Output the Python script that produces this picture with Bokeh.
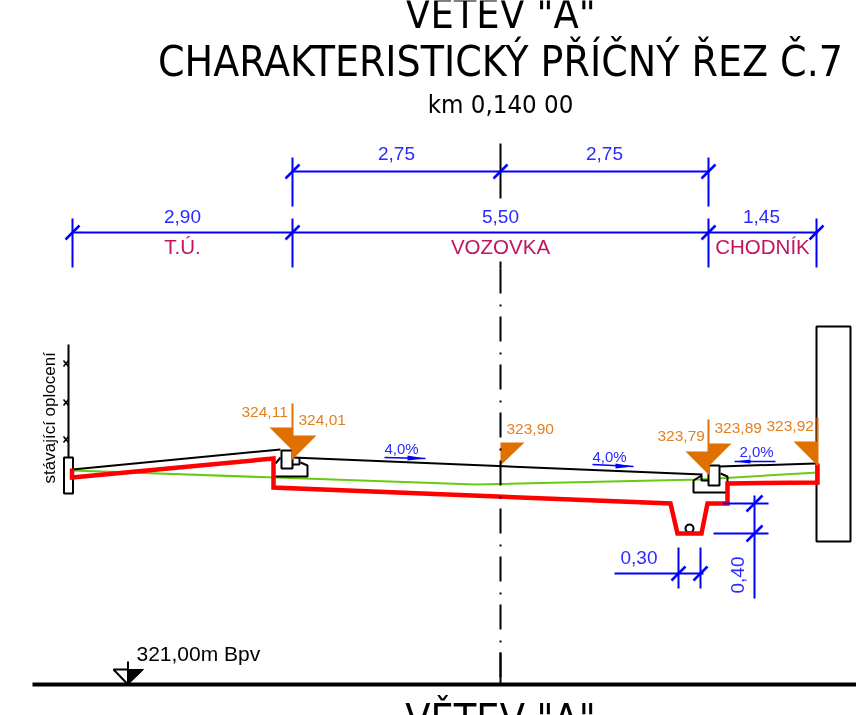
from bokeh.plotting import figure
from bokeh.models import Range1d
from bokeh.core.properties import value
from bokeh.embed import file_html
from bokeh.resources import INLINE

# ---- drawing data, in the drawing's own units (x right, y down) ----
dim_labels = ["2,75", "2,75", "2,90", "5,50", "1,45"]
dim_label_x = [396, 604, 182, 500, 761]
dim_label_y = [161, 161, 224, 224, 224]
zone_labels = ["T.Ú.", "VOZOVKA", "CHODNÍK"]
zone_x = [182, 500, 762]
zone_y = [255, 255, 255]
dim_upper_x = [292, 500, 708]
dim_upper_y = 171
dim_lower_x = [72, 292, 708, 816]
dim_lower_y = 232

road_red_x = [71.5, 71.5, 273, 273, 670, 677, 701, 707, 727, 727, 817, 817]
road_red_y = [468, 477, 458, 487, 503, 533, 533, 503, 503, 483, 482, 463]
subgrade_x = [72, 475, 700, 817]
subgrade_y = [470, 484, 479, 472]
terrain_x = [72, 280]
terrain_y = [469, 449]
deck_left_x = [292, 702]
deck_left_y = [457, 474]
deck_right_x = [719, 815]
deck_right_y = [466, 463]

heights = ["324,11", "324,01", "323,90", "323,79", "323,89", "323,92"]
height_x = [241, 298, 506, 657, 714, 766]
height_y = [418, 426, 435, 442, 434, 432]
marker_xs = [[269, 292, 292], [292, 316, 292], [500, 524, 500], [685, 708, 708], [708, 731, 708], [793, 817, 817]]
marker_ys = [[427, 427, 450], [435, 435, 459], [442, 442, 465], [451, 451, 474], [443, 443, 466], [441, 441, 465]]
stem_x = [292, 708, 817]
stem_top = [403, 419, 417]
stem_bottom = [459, 474, 465]

slopes = ["4,0%", "4,0%", "2,0%"]
slope_x = [384, 592, 739]
slope_y = [454, 462, 457]
slope_line_x = [[384, 425], [592, 633], [734, 775]]
slope_line_y = [[457, 458], [464, 466], [461, 461]]
slope_head_x = [[407, 425, 407], [615, 633, 615], [750, 734, 750]]
slope_head_y = [[455, 458, 460], [463, 466, 468], [459, 461, 463]]

fence_x = 68
fence_top = 344
fence_bottom = 457
fence_marks = [363, 402, 439]

p = figure(width=856, height=715, output_backend="svg", toolbar_location=None,
           x_range=Range1d(0, 856), y_range=Range1d(715, 0), min_border=0,
           background_fill_color="white", outline_line_color=None)
p.axis.visible = False
p.grid.visible = False
p.styles = {"position": "fixed", "left": "0px", "top": "0px"}

SANS = value("Liberation Sans")
COND = value("DejaVu Sans Condensed")
BLUE = "#0000ff"
TBLUE = "#2a2aff"
ORANGE = "#e07000"
OTEXT = "#e2801f"
ZONE = "#c0145f"
GREEN = "#66cc11"
RED = "#ff0000"

def label(x, y, t, size, color="black", font=SANS, align="left", angle=0):
    # the renderer sets alphabetic text about 0.42 em below its anchor
    shift = 0.42 * size
    if angle:
        x = [v - shift for v in x]
    else:
        y = [v - shift for v in y]
    p.text(x=x, y=y, text=t, text_font=font, text_font_size=f"{size}px", text_color=color,
           text_align=align, text_baseline="alphabetic", angle=angle)

# ---- titles ----
label([500], [31], ['VĚTEV "A"'], 41, align="center", font=COND)
label([500], [79], ["CHARAKTERISTICKÝ PŘÍČNÝ ŘEZ Č.7"], 42.3, align="center", font=COND)
label([500], [114], ["km 0,140 00"], 25.6, align="center", font=COND)
label([500], [736], ['VĚTEV "A"'], 41, align="center", font=COND)

# ---- ground and level mark ----
p.line([32, 856], [684, 684], line_color="black", line_width=4)
p.line([127.5, 127.5], [661, 684], line_color="black", line_width=2)
p.patch([113, 127.5, 127.5], [669, 669, 684], fill_color="white", line_color="black", line_width=2)
p.patch([127.5, 143, 127.5], [669, 669, 684], fill_color="black", line_color="black", line_width=1)
label([136], [662], ["321,00m Bpv"], 21)

# ---- fence ----
p.line([fence_x, fence_x], [fence_top, fence_bottom], line_color="black", line_width=2)
for m in fence_marks:
    p.multi_line([[63, 68], [63, 68]], [[m - 3, m + 3], [m + 3, m - 3]], line_color="black", line_width=1.5)
p.quad(left=[63.5], right=[72.5], top=[457], bottom=[493], fill_color="white", line_color="black", line_width=2)
label([56], [483], ["stávající oplocení"], 17, angle=1.5708)

# ---- wall ----
p.quad(left=[816], right=[850], top=[326], bottom=[541], fill_color="white", line_color="black", line_width=2)

# ---- surfaces ----
p.line(subgrade_x, subgrade_y, line_color=GREEN, line_width=2)
p.line(terrain_x, terrain_y, line_color="black", line_width=2)
p.line(deck_left_x, deck_left_y, line_color="black", line_width=2)
p.line(deck_right_x, deck_right_y, line_color="black", line_width=2)

# ---- left kerb ----
p.line([275, 280], [463, 457], line_color="black", line_width=2)
p.line([275, 307, 307, 300], [476, 476, 465, 462], line_color="black", line_width=2)
p.line([292, 299, 299], [464, 464, 457], line_color="black", line_width=2)
p.quad(left=[281], right=[292], top=[450], bottom=[468], fill_color="white", line_color="black", line_width=2)

# ---- right kerb ----
p.line([708, 701, 701, 693, 693, 727], [480, 480, 475, 480, 492, 492], line_color="black", line_width=2)
p.line([720, 727, 727], [473, 476, 483], line_color="black", line_width=2)
p.quad(left=[708], right=[719], top=[465], bottom=[485], fill_color="white", line_color="black", line_width=2)

# ---- gully pipe ----
p.scatter([689], [528], size=8, marker="circle", fill_color="white", line_color="black", line_width=2)

# ---- structure line ----
p.line(road_red_x, road_red_y, line_color=RED, line_width=4.5, line_join="miter")

# ---- height markers ----
p.patches(marker_xs, marker_ys, fill_color=ORANGE, line_color=None)
p.segment(stem_x, stem_top, stem_x, stem_bottom, line_color=ORANGE, line_width=2)
label(height_x, height_y, heights, 15.5, color=OTEXT)

# ---- slope arrows ----
p.multi_line(slope_line_x, slope_line_y, line_color=BLUE, line_width=1.5)
p.patches(slope_head_x, slope_head_y, fill_color=BLUE, line_color=None)
label(slope_x, slope_y, slopes, 15, color=TBLUE)

# ---- centre line ----
p.line([500, 500], [143, 198], line_color="black", line_width=2)
p.line([500, 500], [261, 268], line_color="black", line_width=2)
p.line([500, 500], [268, 677], line_color="black", line_width=2, line_dash="25 11 2 10")
p.line([500, 500], [652, 684], line_color="black", line_width=2)

# ---- dimension chains ----
def ticks(xs, y):
    p.segment([x - 7 for x in xs], [y + 7] * len(xs), [x + 7 for x in xs], [y - 7] * len(xs),
              line_color=BLUE, line_width=2.5)

p.line([dim_upper_x[0], dim_upper_x[-1]], [dim_upper_y] * 2, line_color=BLUE, line_width=2)
p.segment([292, 708], [157, 157], [292, 708], [206, 206], line_color=BLUE, line_width=2)
ticks(dim_upper_x, dim_upper_y)
p.line([dim_lower_x[0], dim_lower_x[-1]], [dim_lower_y] * 2, line_color=BLUE, line_width=2)
p.segment(dim_lower_x, [218] * 4, dim_lower_x, [267] * 4, line_color=BLUE, line_width=2)
ticks(dim_lower_x, dim_lower_y)
label(dim_label_x, dim_label_y, dim_labels, 19, color=TBLUE, align="center")
label(zone_x, zone_y, zone_labels, 20.5, color=ZONE, align="center")

# ---- gully dimensions ----
p.line([614, 703], [573, 573], line_color=BLUE, line_width=2)
p.segment([678, 700], [547, 547], [678, 700], [588, 588], line_color=BLUE, line_width=2)
ticks([678, 700], 573)
label([620], [565], ["0,30"], 19, color=TBLUE)
p.line([754, 754], [495, 598], line_color=BLUE, line_width=2)
p.segment([722, 713], [503, 533], [768, 768], [503, 533], line_color=BLUE, line_width=2)
p.segment([746, 746], [511, 541], [762, 762], [495, 525], line_color=BLUE, line_width=2.5)
label([745], [593], ["0,40"], 19, color=TBLUE, angle=1.5708)

open("out.html", "w").write(file_html(p, INLINE))
